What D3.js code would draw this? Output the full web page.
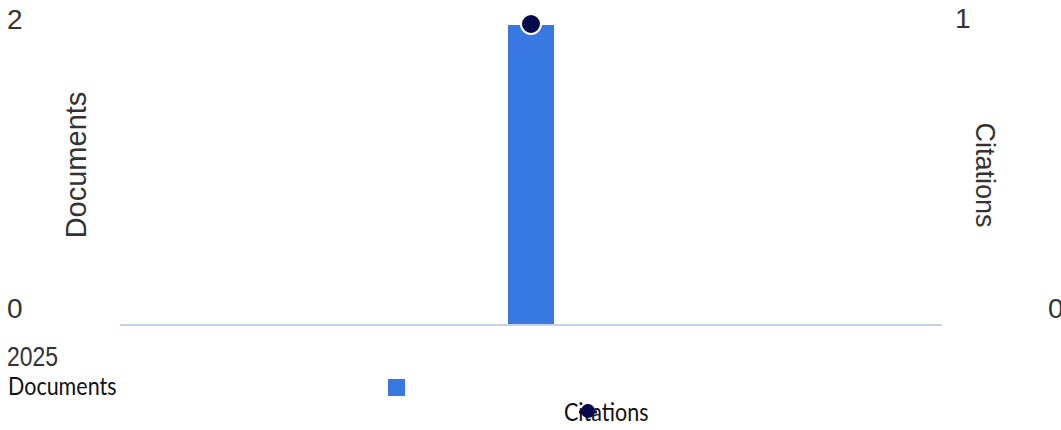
<!DOCTYPE html>
<html>
<head>
<meta charset="utf-8">
<script src="https://cdn.jsdelivr.net/npm/d3@7"></script>
<style>
  html, body { margin: 0; padding: 0; background: #fff; }
  #chart svg { display: block; }
  .tick-label { font-family: "Liberation Sans", Arial, sans-serif; fill: #333; }
  .legend-label { font-family: Lato, "Noto Sans", sans-serif; fill: #111; }
</style>
</head>
<body>
<div id="chart"></div>
<script>
// ── data
const years     = ['2025'];
const documents = [2];
const citations = [1];
const docTicks  = [0, 2];
const citeTicks = [0, 1];

const W = 1061, H = 430;
const plotLeft = 120, plotRight = 942, baseY = 324, topY = 25;

const svg = d3.select('#chart').append('svg')
  .attr('width', W).attr('height', H);

// ── scales
const x = d3.scaleBand().domain(years).range([plotLeft, plotRight]).padding(0.894);
const yDoc  = d3.scaleLinear().domain([0, 2]).range([baseY, topY]);
const yCite = d3.scaleLinear().domain([0, 1]).range([baseY, topY - 1]);
// label baselines sit a little inside the plot extent
const docLabelY  = d3.scaleLinear().domain([0, 2]).range([318, 29]);
const citeLabelY = d3.scaleLinear().domain([0, 1]).range([318, 28]);

// ── bars
svg.append('g').selectAll('rect')
  .data(years.map((y, i) => ({ year: y, v: documents[i] })))
  .join('rect')
    .attr('x', d => x(d.year))
    .attr('width', x.bandwidth())
    .attr('y', d => yDoc(d.v))
    .attr('height', d => yDoc(0) - yDoc(d.v))
    .attr('fill', '#3779e1');

// ── baseline
svg.append('line')
  .attr('x1', plotLeft).attr('x2', plotRight)
  .attr('y1', yDoc(0) + 1).attr('y2', yDoc(0) + 1)
  .attr('stroke', '#c6d1ec').attr('stroke-width', 2);

// ── citation points
svg.append('g').selectAll('circle')
  .data(years.map((y, i) => ({ year: y, v: citations[i] })))
  .join('circle')
    .attr('cx', d => x(d.year) + x.bandwidth() / 2)
    .attr('cy', d => yCite(d.v))
    .attr('r', 10)
    .attr('fill', '#050a4c')
    .attr('stroke', '#fff').attr('stroke-width', 2);

// ── left ticks
svg.append('g').selectAll('text')
  .data(docTicks).join('text')
    .attr('class', 'tick-label')
    .attr('x', 7).attr('y', d => docLabelY(d))
    .attr('font-size', 28)
    .text(d => d);

// ── right ticks (the 0 runs off the edge, as in the source)
svg.append('g').selectAll('text')
  .data(citeTicks).join('text')
    .attr('class', 'tick-label')
    .attr('x', d => d === 0 ? 1048 : 955).attr('y', d => citeLabelY(d))
    .attr('font-size', 28)
    .text(d => d);

// ── axis titles
svg.append('text')
  .attr('class', 'tick-label')
  .attr('transform', 'translate(86,165) rotate(-90)')
  .attr('text-anchor', 'middle')
  .attr('font-size', 29)
  .text('Documents');

svg.append('text')
  .attr('class', 'tick-label')
  .attr('transform', 'translate(976,175) rotate(90)')
  .attr('text-anchor', 'middle')
  .attr('font-size', 27)
  .text('Citations');

// ── category label (slightly stretched vertically like the source)
svg.append('text')
  .attr('class', 'tick-label')
  .attr('transform', 'translate(7,366) scale(1,1.22)')
  .attr('font-size', 23)
  .text(years[0]);

// ── legend
svg.append('text')
  .attr('class', 'legend-label')
  .attr('transform', 'translate(8,395) scale(1,1.15)')
  .attr('font-size', 21.5)
  .text('Documents');

svg.append('rect')
  .attr('x', 388).attr('y', 379)
  .attr('width', 17).attr('height', 17)
  .attr('fill', '#3779e1');

svg.append('text')
  .attr('class', 'legend-label')
  .attr('transform', 'translate(564,421) scale(1,1.15)')
  .attr('font-size', 21.5)
  .text('Citations');

svg.append('line')
  .attr('x1', 579).attr('x2', 597)
  .attr('y1', 412).attr('y2', 412)
  .attr('stroke', '#050a4c').attr('stroke-width', 3);

svg.append('circle')
  .attr('cx', 588).attr('cy', 411).attr('r', 7)
  .attr('fill', '#050a4c');
</script>
</body>
</html>
